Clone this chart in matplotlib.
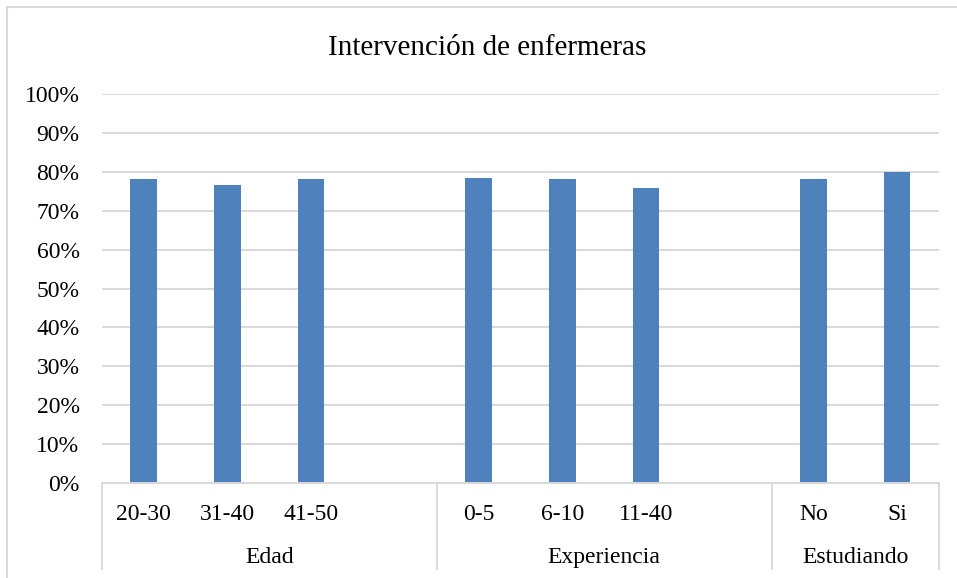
import matplotlib
matplotlib.use('Agg')
import matplotlib.pyplot as plt
from matplotlib.lines import Line2D
from matplotlib.ticker import PercentFormatter

# datos por grupo (porcentaje de intervención)
grupos = ['Edad', 'Experiencia', 'Estudiando']
categorias = [['20-30', '31-40', '41-50'], ['0-5', '6-10', '11-40'], ['No', 'Si']]
valores = [[78.2, 76.6, 78.2], [78.4, 78.2, 75.8], [78.0, 79.9]]
huecos = [1, 1, 0]   # casilla vacía al final de cada grupo

plt.rcParams['font.family'] = 'Liberation Serif'
azul = '#4F81BD'
gris = '#D9D9D9'

fig = plt.figure(figsize=[9.57, 5.78], dpi=100)
ax = fig.add_axes([0.1063, 0.1638, 0.8749, 0.6741])

pos = 0
limites = [pos - 0.5]
centros = []
for cats, vals, h in zip(categorias, valores, huecos):
    xs = list(range(pos, pos + len(cats)))
    ax.bar(xs, [v / 100 for v in vals], width=0.317, color=azul, zorder=3)
    for x, c in zip(xs, cats):
        ax.text(x, -0.081, c, transform=ax.get_xaxis_transform(), ha='center', va='center', fontsize=17)
    pos += len(cats) + h
    centros.append((limites[-1] + pos - 0.5) / 2)
    limites.append(pos - 0.5)

for c, g in zip(centros, grupos):
    ax.text(c, -0.191, g, transform=ax.get_xaxis_transform(), ha='center', va='center', fontsize=17)
for b in limites:
    ax.add_line(Line2D([b, b], [0, -0.22], transform=ax.get_xaxis_transform(), color=gris, lw=1.4, clip_on=False))

ax.set_xlim(limites[0], limites[-1])
ax.set_ylim(0, 1)
ax.set_yticks([i / 10 for i in range(11)])
ax.yaxis.set_major_formatter(PercentFormatter(1.0, decimals=0))
ax.tick_params(axis='y', length=0, pad=16, labelsize=17)
ax.set_xticks([])
ax.grid(axis='y', color=gris, lw=1.4, zorder=0)
for s in ['top', 'right', 'left']:
    ax.spines[s].set_visible(False)
ax.spines['bottom'].set_color(gris)
ax.spines['bottom'].set_linewidth(1.4)
ax.spines['bottom'].set_zorder(4)

fig.text(0.5096, 1 - 48 / 578, 'Intervención de enfermeras', ha='center', va='center', fontsize=21)

# marco del gráfico
fig.add_artist(Line2D([7.3 / 957, 1], [1 - 6.7 / 578] * 2, transform=fig.transFigure, color=gris, lw=1.5))
fig.add_artist(Line2D([7.3 / 957] * 2, [0, 1 - 6.7 / 578], transform=fig.transFigure, color=gris, lw=1.5))

fig.savefig('out.png', dpi=100)
